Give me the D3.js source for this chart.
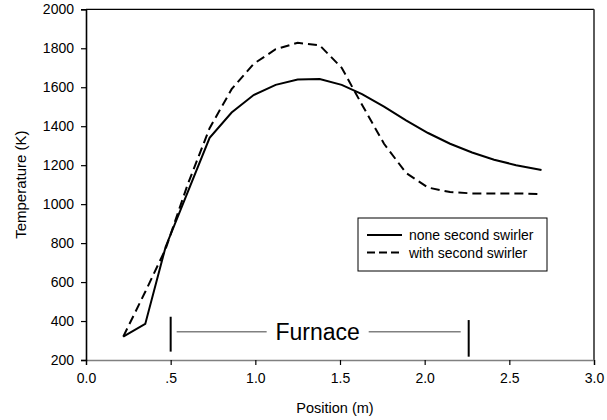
<!DOCTYPE html>
<html>
<head>
<meta charset="utf-8">
<script src="https://cdn.jsdelivr.net/npm/d3@7"></script>
<style>
  body { margin: 0; background: #fff; }
  svg { display: block; font-family: Arial, "Liberation Sans", sans-serif; }
</style>
</head>
<body>
<svg id="chart" width="607" height="420"></svg>
<script>
// data
const positions  = [0.22, 0.35, 0.47, 0.60, 0.73, 0.86, 0.99, 1.12, 1.25, 1.38, 1.51, 1.63, 1.76, 1.89, 2.02, 2.15, 2.28, 2.41, 2.54, 2.69];
const noneSecond = [320, 385, 780, 1060, 1340, 1470, 1560, 1612, 1640, 1642, 1612, 1565, 1500, 1430, 1365, 1310, 1265, 1228, 1200, 1175];
const withSecond = [320, 550, 770, 1100, 1390, 1590, 1720, 1795, 1828, 1815, 1700, 1510, 1310, 1160, 1085, 1062, 1055, 1055, 1055, 1052];

const xTicks = [0, 0.5, 1.0, 1.5, 2.0, 2.5, 3.0];
const xTickLabels = ["0.0", ".5", "1.0", "1.5", "2.0", "2.5", "3.0"];
const yTicks = [200, 400, 600, 800, 1000, 1200, 1400, 1600, 1800, 2000];

const seriesNames = ["none second swirler", "with second swirler"];
const furnaceRange = [0.5, 2.26];

const chart = function(){

    const svg = d3.select('#chart');
    const left = 86, right = 594, top = 9.3, bottom = 360;

    const x = d3.scaleLinear().domain([0, 3]).range([left, right]);
    const y = d3.scaleLinear().domain([200, 2000]).range([bottom, top]);

    // frame: top and right
    svg.append("line")
        .attr("x1", left).attr("x2", right).attr("y1", top).attr("y2", top)
        .attr("stroke", "#000").attr("stroke-width", 1.2);
    svg.append("line")
        .attr("x1", right).attr("x2", right).attr("y1", top).attr("y2", bottom)
        .attr("stroke", "#333").attr("stroke-width", 1.6);

    // x axis (gray)
    const xAxis = svg.append("g")
        .attr("transform", "translate(0," + bottom + ")")
        .call(d3.axisBottom(x)
            .tickValues(xTicks)
            .tickFormat(function(d, i){ return xTickLabels[i] })
            .tickSizeOuter(0)
            .tickSize(5)
            .tickPadding(8));
    xAxis.select(".domain").attr("stroke", "#808080").attr("stroke-width", 1.6);
    xAxis.selectAll(".tick line").attr("stroke", "#000").attr("stroke-width", 1.2);
    xAxis.selectAll("text").attr("font-size", 14).attr("fill", "#000")
        .attr("font-family", "Arial, 'Liberation Sans', sans-serif");

    // y axis
    const yAxis = svg.append("g")
        .attr("transform", "translate(" + left + ",0)")
        .call(d3.axisLeft(y)
            .tickValues(yTicks)
            .tickFormat(d3.format("d"))
            .tickSizeOuter(0)
            .tickSize(5)
            .tickPadding(7));
    yAxis.select(".domain").attr("stroke", "#000").attr("stroke-width", 1.6);
    yAxis.selectAll(".tick line").attr("stroke", "#000").attr("stroke-width", 1.2);
    yAxis.selectAll("text").attr("font-size", 14).attr("fill", "#000")
        .attr("font-family", "Arial, 'Liberation Sans', sans-serif");

    // axis titles
    svg.append("text")
        .attr("x", (left + right) / 2 - 5)
        .attr("y", 413)
        .attr("text-anchor", "middle")
        .attr("font-size", 14.5)
        .text("Position (m)");
    svg.append("text")
        .attr("transform", "translate(26," + (top + bottom) / 2 + ") rotate(-90)")
        .attr("text-anchor", "middle")
        .attr("font-size", 15)
        .text("Temperature (K)");

    // curves
    const line = d3.line()
        .x(function(d){ return x(d[0]) })
        .y(function(d){ return y(d[1]) });

    svg.append("path")
        .datum(d3.zip(positions, noneSecond))
        .attr("d", line)
        .attr("fill", "none")
        .attr("stroke", "#000")
        .attr("stroke-width", 2);

    svg.append("path")
        .datum(d3.zip(positions, withSecond))
        .attr("d", line)
        .attr("fill", "none")
        .attr("stroke", "#000")
        .attr("stroke-width", 2)
        .attr("stroke-dasharray", "9,5");

    // furnace annotation
    const fx0 = x(furnaceRange[0]), fx1 = x(furnaceRange[1]);
    svg.append("line")
        .attr("x1", fx0).attr("x2", fx0).attr("y1", y(422)).attr("y2", y(243))
        .attr("stroke", "#000").attr("stroke-width", 2);
    svg.append("line")
        .attr("x1", fx1).attr("x2", fx1).attr("y1", y(405)).attr("y2", y(217))
        .attr("stroke", "#000").attr("stroke-width", 2);
    svg.append("line")
        .attr("x1", fx0 + 6).attr("x2", fx0 + 96).attr("y1", y(345)).attr("y2", y(345))
        .attr("stroke", "#808080").attr("stroke-width", 1.5);
    svg.append("line")
        .attr("x1", fx1 - 100).attr("x2", fx1 - 8).attr("y1", y(345)).attr("y2", y(345))
        .attr("stroke", "#808080").attr("stroke-width", 1.5);
    svg.append("text")
        .attr("x", (fx0 + fx1) / 2 - 2)
        .attr("y", 340)
        .attr("text-anchor", "middle")
        .attr("font-size", 23)
        .text("Furnace");

    // legend
    const lg = svg.append("g").attr("transform", "translate(358,218)");
    lg.append("rect")
        .attr("width", 189).attr("height", 53)
        .attr("fill", "#fff").attr("stroke", "#000").attr("stroke-width", 1);
    seriesNames.forEach(function(name, i){
        const ly = 17 + i * 17.5;
        lg.append("line")
            .attr("x1", 9).attr("x2", 44).attr("y1", ly).attr("y2", ly)
            .attr("stroke", "#000").attr("stroke-width", 2)
            .attr("stroke-dasharray", i === 1 ? "8,4" : null);
        lg.append("text")
            .attr("x", 51).attr("y", ly + 5)
            .attr("font-size", 14)
            .text(name);
    });

}();
</script>
</body>
</html>
